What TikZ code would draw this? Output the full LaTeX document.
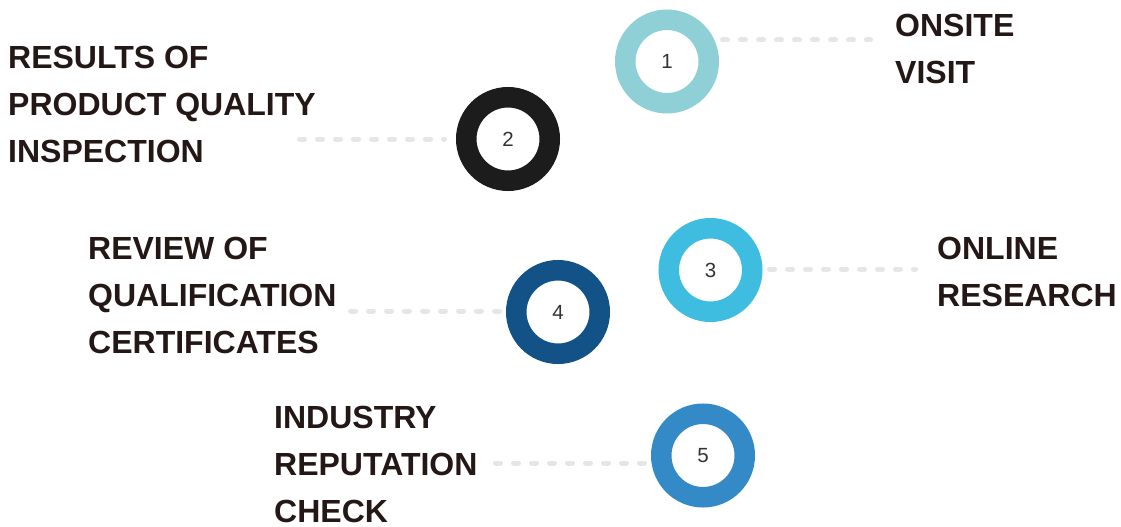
\documentclass[tikz,border=0pt]{standalone}
\usepackage{fontspec}
\setmainfont{Liberation Sans}
\definecolor{ink}{HTML}{231815}
\definecolor{numink}{HTML}{333333}
\definecolor{dashgray}{HTML}{E6E6E6}
\definecolor{ringA}{HTML}{8FD0D6}
\definecolor{ringB}{HTML}{1C1C1C}
\definecolor{ringC}{HTML}{3EBDE0}
\definecolor{ringD}{HTML}{135286}
\definecolor{ringE}{HTML}{338AC6}
\tikzset{
  ring/.style={circle, draw=#1, line width=20.5pt, fill=white,
    minimum size=83.5pt, inner sep=0pt,
    font=\fontsize{20.5}{20.5}\selectfont, text=numink},
  % anchored at the baseline of the caption's last line
  label text/.style={anchor=base west, inner sep=0pt, align=left,
    font=\fontsize{32}{47}\bfseries\selectfont, text=ink},
  dashline/.style={draw=dashgray, line width=5pt, line cap=round,
    dash pattern=on 5pt off 13pt}
}
\begin{document}
\begin{tikzpicture}[x=1pt, y=-1pt]
  \useasboundingbox (0,0) rectangle (1121,527);

  % numbered rings
  \node[ring=ringA] (r1) at (667,61.5) {1};
  \node[ring=ringB] (r2) at (508,139) {2};
  \node[ring=ringC] (r3) at (710.5,270) {3};
  \node[ring=ringD] (r4) at (558,312) {4};
  \node[ring=ringE] (r5) at (703,455.5) {5};

  % captions
  \node[label text] (t1) at (895,83) {ONSITE\\VISIT};
  \node[label text] (t2) at (8,162) {RESULTS OF\\PRODUCT QUALITY\\INSPECTION};
  \node[label text] (t3) at (937,306) {ONLINE\\RESEARCH};
  \node[label text] (t4) at (88,353) {REVIEW OF\\QUALIFICATION\\CERTIFICATES};
  \node[label text] (t5) at (274,522) {INDUSTRY\\REPUTATION\\CHECK};

  % dashed leaders between rings and captions
  \coordinate (d1a) at (722.5,40);  \coordinate (d1b) at (870.5,40);
  \coordinate (d2a) at (299.5,139); \coordinate (d2b) at (444.5,139);
  \coordinate (d3a) at (769.5,269); \coordinate (d3b) at (915.5,269);
  \coordinate (d4a) at (350.5,311); \coordinate (d4b) at (499.5,311);
  \coordinate (d5a) at (495.5,463); \coordinate (d5b) at (644.5,463);
  \draw[dashline] (d1a) -- (d1b);
  \draw[dashline] (d2a) -- (d2b);
  \draw[dashline] (d3a) -- (d3b);
  \draw[dashline] (d4a) -- (d4b);
  \draw[dashline] (d5a) -- (d5b);
\end{tikzpicture}
\end{document}
